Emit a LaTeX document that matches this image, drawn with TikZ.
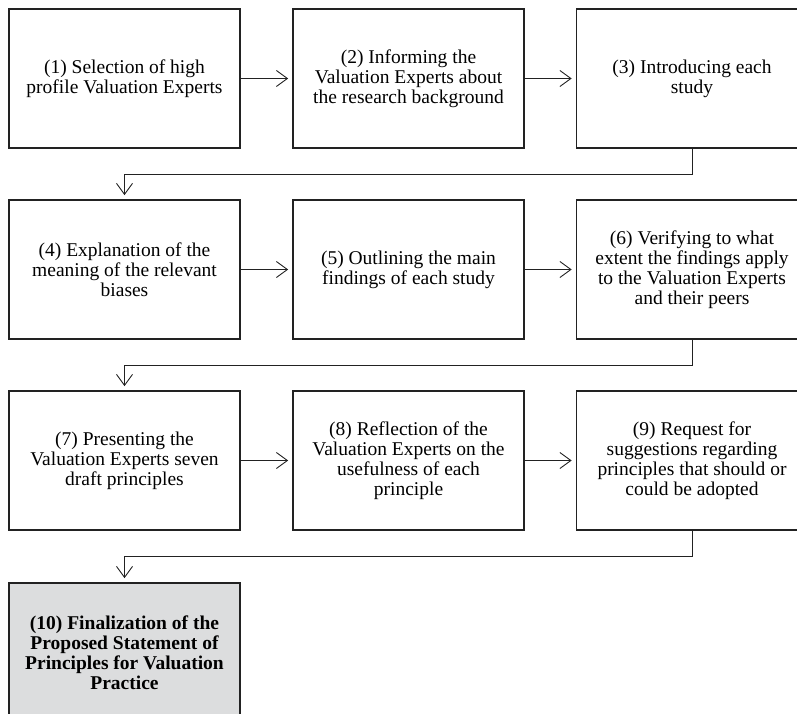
\documentclass[tikz,border=0pt]{standalone}
\usepackage{fontspec}
\setmainfont{Liberation Serif}
\usetikzlibrary{arrows.meta}
\definecolor{boxline}{HTML}{222222}
\definecolor{finalfill}{HTML}{DCDDDE}
\tikzset{
  stepbox/.style={draw=boxline, line width=1.7pt, minimum width=231pt, minimum height=139pt,
    inner sep=0pt, align=center, font=\fontsize{19.5pt}{20pt}\selectfont},
  finalbox/.style={stepbox, fill=finalfill, font=\fontsize{19.5pt}{20pt}\selectfont\bfseries},
  conn/.style={draw=boxline, line width=0.9pt, -{Straight Barb[length=11pt,width=16pt,line width=0.9pt]}, shorten >=4pt}
}
\begin{document}
\begin{tikzpicture}[x=1pt,y=-1pt]
\useasboundingbox (0,0) rectangle (797,714);
\clip (0,0) rectangle (797,714);
\node[stepbox] (s1) at (124.5,78.5) {(1) Selection of high\\profile Valuation Experts};
\node[stepbox] (s2) at (408.5,78.5) {(2) Informing the\\Valuation Experts about\\the research background};
\node[stepbox] (s3) at (692,78.5) {(3) Introducing each\\study};
\node[stepbox] (s4) at (124.5,269.5) {(4) Explanation of the\\meaning of the relevant\\biases};
\node[stepbox] (s5) at (408.5,269.5) {(5) Outlining the main\\findings of each study};
\node[stepbox] (s6) at (692,269.5) {(6) Verifying to what\\extent the findings apply\\to the Valuation Experts\\and their peers};
\node[stepbox] (s7) at (124.5,460.5) {(7) Presenting the\\Valuation Experts seven\\draft principles};
\node[stepbox] (s8) at (408.5,460.5) {(8) Reflection of the\\Valuation Experts on the\\usefulness of each\\principle};
\node[stepbox] (s9) at (692,460.5) {(9) Request for\\suggestions regarding\\principles that should or\\could be adopted};
\node[finalbox] (s10) at (124.5,652.5) {(10) Finalization of the\\Proposed Statement of\\Principles for Valuation\\Practice};
\coordinate (b1) at (692,174);
\coordinate (b2) at (692,365);
\coordinate (b3) at (692,556);
\draw[conn] (s1) -- (s2);
\draw[conn] (s2) -- (s3);
\draw[conn] (s3.south) -- (b1) -| (s4.north);
\draw[conn] (s4) -- (s5);
\draw[conn] (s5) -- (s6);
\draw[conn] (s6.south) -- (b2) -| (s7.north);
\draw[conn] (s7) -- (s8);
\draw[conn] (s8) -- (s9);
\draw[conn] (s9.south) -- (b3) -| (s10.north);
\end{tikzpicture}
\end{document}
